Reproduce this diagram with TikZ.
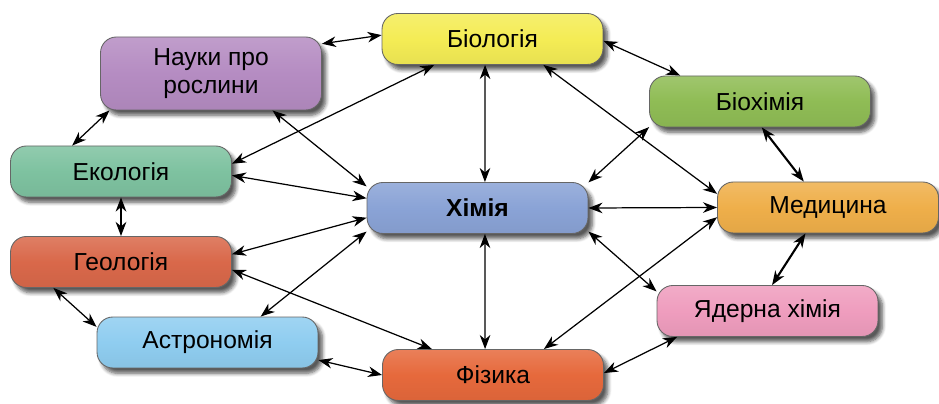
\documentclass[tikz,border=0pt]{standalone}
\usepackage{fontspec}
\setmainfont{Liberation Sans}
\usetikzlibrary{
    arrows.meta,
    shadows.blur
}

\definecolor{biocol}{HTML}{F4EC55}
\definecolor{plantcol}{HTML}{B58CC2}
\definecolor{biochcol}{HTML}{8FBC55}
\definecolor{ecocol}{HTML}{7EC2A0}
\definecolor{chemcol}{HTML}{8AA3D6}
\definecolor{medcol}{HTML}{EFAF4A}
\definecolor{geocol}{HTML}{D9684A}
\definecolor{nuccol}{HTML}{EF9DBE}
\definecolor{astrocol}{HTML}{8FCDF0}
\definecolor{physcol}{HTML}{E6693C}

\tikzset{
    >={Stealth[length=8pt,width=6pt,inset=2.5pt]},
    discipline/.style={
        rectangle,
        rounded corners=9pt,
        minimum width=4.42cm,
        minimum height=1.02cm,
        draw=black!60,
        line width=0.5pt,
        top color=#1!85!white,
        bottom color=#1!95!black,
        middle color=#1,
        blur shadow={shadow xshift=2.5pt, shadow yshift=-3pt,
            shadow blur steps=6, shadow opacity=65},
        font=\fontsize{14}{15.5}\selectfont,
        align=center,
        inner sep=2pt
    },
    link/.style={<->, line width=0.7pt},
    boldlink/.style={<->, line width=1.2pt}
}

\begin{document}
\begin{tikzpicture}[
    x=0.02cm,
    y=-0.02cm
]
    \useasboundingbox (0,0) rectangle (939,404);

    % Науки
    \node[discipline=biocol]   (bio)   at (492.5,39)  {Біологія};
    \node[discipline=plantcol, minimum height=1.46cm]
                               (plant) at (211,73.5)  {Науки про\\рослини};
    \node[discipline=biochcol] (bioch) at (760,101.5) {Біохімія};

    \node[discipline=ecocol]   (eco)   at (121,171.5) {Екологія};
    \node[discipline=chemcol]  (chem)  at (477.5,208) {\bfseries Хімія};
    \node[discipline=medcol]   (med)   at (828,207.5) {Медицина};

    \node[discipline=geocol]   (geo)   at (121,262)   {Геологія};
    \node[discipline=nuccol]   (nuc)   at (767.5,311) {Ядерна хімія};
    \node[discipline=astrocol] (astro) at (207.5,342.5) {Астрономія};
    \node[discipline=physcol]  (phys)  at (493,375)   {Фізика};

    % Зв'язки
    \path[link]

        % від біології
        (bio.178)
            edge (plant.15)
        (bio.-1)
            edge (bioch.162)
        (bio.-106)
            edge (chem.74)
        (bio.-27)
            edge (med.173)
        (bio.-156)
            edge (eco.4)

        % від наук про рослини
        (plant.-160)
            edge (eco.152)
        (plant.-31)
            edge (chem.169)

        % від екології та геології
        (eco.-2)
            edge (chem.175)
        (geo.4)
            edge (chem.185)
        (geo.-4)
            edge (phys.157)
        (geo.-159)
            edge (astro.172)

        % від астрономії
        (astro.26)
            edge (chem.-168)
        (astro.-9)
            edge (phys.180)

        % від хімії
        (chem.-74)
            edge (phys.107)
        (chem.13)
            edge (bioch.-167)
        (chem.0)
            edge (med.180)
        (chem.-12)
            edge (nuc.170)

        % від медицини та ядерної хімії
        (med.185)
            edge (phys.27)
        (nuc.-164)
            edge (phys.1);

    \path[boldlink]
        (eco.south)
            edge[line width=1.5pt] (geo.north)
        (med.133)
            edge (bioch.-86)
        (med.-131)
            edge (nuc.80);

\end{tikzpicture}
\end{document}
